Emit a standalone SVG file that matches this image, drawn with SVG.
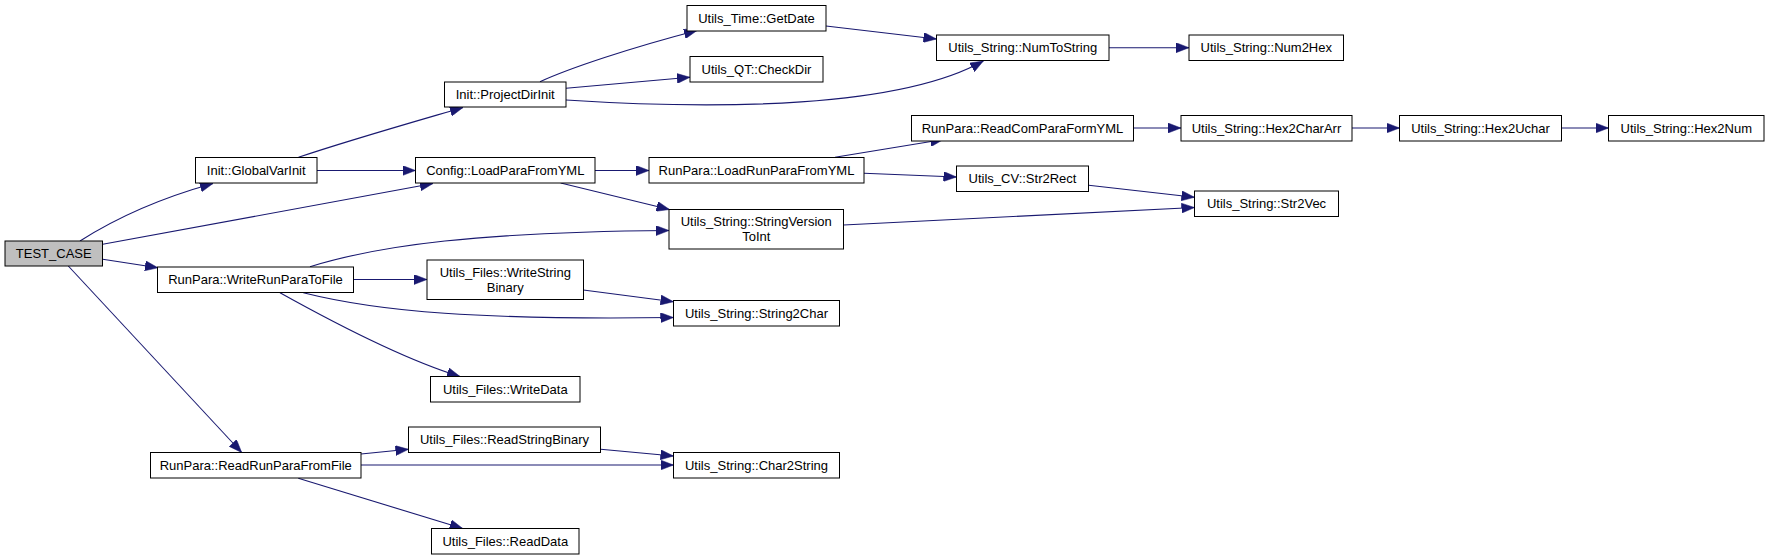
<svg xmlns="http://www.w3.org/2000/svg" width="1769" height="560" viewBox="0 0 1769 560">
<style>
.n rect{fill:#fff;stroke:#000;stroke-width:1}
.n.root rect{fill:#bfbfbf}
.n text{font-family:"Liberation Sans",Arial,sans-serif;font-size:13px;fill:#000;text-anchor:middle}
.e path{fill:none;stroke:#191970;stroke-width:1.1;marker-end:url(#ah)}
</style>
<defs>
<marker id="ah" viewBox="0 0 13 10" refX="13" refY="5" markerWidth="13" markerHeight="10" markerUnits="userSpaceOnUse" orient="auto">
<path d="M0,0 L13,5 L0,10 z" fill="#191970" stroke="#191970" stroke-width="0.5"/>
</marker>
</defs>
<rect width="1769" height="560" fill="#fff"/>
<g id="edges" class="e">
<path d="M80,241 C105,225 150,201 213,183.5"/>
<path d="M102.7,244.3 L433,183.5"/>
<path d="M102.7,259.3 L158,267.8"/>
<path d="M68.3,266 L241.7,452.5"/>
<path d="M298.5,157.3 C350,140 410,123 463,107.5"/>
<path d="M317,170.5 L415.5,170.5"/>
<path d="M540,81.7 C570,68 630,48 697,30.5"/>
<path d="M566,88.3 L690,77.3"/>
<path d="M566,100 C720,110 900,108 983.3,61"/>
<path d="M826,26 L936.5,39"/>
<path d="M1109,47.7 L1189,47.7"/>
<path d="M595,170.5 L649,170.5"/>
<path d="M560.7,183 L669.5,209.5"/>
<path d="M835,157.3 L943.3,139.5"/>
<path d="M864,173.3 L956.5,177"/>
<path d="M1133.5,128 L1181,128"/>
<path d="M1352,128 L1399.5,128"/>
<path d="M1561.5,128 L1608.5,128"/>
<path d="M1088.7,185.3 L1194.5,197.3"/>
<path d="M843.5,225 L1194.5,207.5"/>
<path d="M310,266.7 C380,245 480,232 669,230.5"/>
<path d="M353.5,279.5 L427,279.5"/>
<path d="M303.3,292.7 C380,312 480,320 673.5,317.5"/>
<path d="M280,292.7 C320,315 400,358 460,376.5"/>
<path d="M583.3,290 L673.5,301.7"/>
<path d="M361,454 L408.5,449.3"/>
<path d="M361,465 L673.5,465"/>
<path d="M600.7,449.3 L673.5,456"/>
<path d="M298.3,478.3 L462.7,528.5"/>
</g>
<g id="n_TEST_CASE" class="n root"><rect x="5" y="241" width="97.5" height="25"/><text x="53.75" y="258">TEST_CASE</text></g>
<g id="n_GlobalVarInit" class="n"><rect x="195.5" y="157.5" width="121.5" height="25.5"/><text x="256.25" y="174.75">Init::GlobalVarInit</text></g>
<g id="n_ProjectDirInit" class="n"><rect x="444.5" y="82" width="121.5" height="25"/><text x="505.25" y="99">Init::ProjectDirInit</text></g>
<g id="n_LoadParaFromYML" class="n"><rect x="415.5" y="157.5" width="179.5" height="25.5"/><text x="505.25" y="174.75">Config::LoadParaFromYML</text></g>
<g id="n_WriteRunParaToFile" class="n"><rect x="157.5" y="267" width="196" height="25.5"/><text x="255.5" y="284.25">RunPara::WriteRunParaToFile</text></g>
<g id="n_WriteStringBinary" class="n"><rect x="427" y="260" width="156.5" height="39.5"/><text x="505.25" y="276.5">Utils_Files::WriteString</text><text x="505.25" y="291.5">Binary</text></g>
<g id="n_WriteData" class="n"><rect x="430.5" y="376.5" width="149.5" height="25.5"/><text x="505.25" y="393.75">Utils_Files::WriteData</text></g>
<g id="n_ReadRunParaFromFile" class="n"><rect x="150.5" y="452.5" width="210.5" height="25.5"/><text x="255.75" y="469.75">RunPara::ReadRunParaFromFile</text></g>
<g id="n_ReadStringBinary" class="n"><rect x="408.5" y="427" width="192" height="25.5"/><text x="504.5" y="444.25">Utils_Files::ReadStringBinary</text></g>
<g id="n_ReadData" class="n"><rect x="431.5" y="528.5" width="147.5" height="25.5"/><text x="505.25" y="545.75">Utils_Files::ReadData</text></g>
<g id="n_GetDate" class="n"><rect x="687" y="5.5" width="139" height="25.5"/><text x="756.5" y="22.75">Utils_Time::GetDate</text></g>
<g id="n_CheckDir" class="n"><rect x="690" y="56.5" width="133" height="25.5"/><text x="756.5" y="73.75">Utils_QT::CheckDir</text></g>
<g id="n_LoadRunParaFromYML" class="n"><rect x="649" y="157.5" width="215" height="25.5"/><text x="756.5" y="174.75">RunPara::LoadRunParaFromYML</text></g>
<g id="n_StringVersionToInt" class="n"><rect x="669" y="209.5" width="174.5" height="39.5"/><text x="756.25" y="226">Utils_String::StringVersion</text><text x="756.25" y="241">ToInt</text></g>
<g id="n_String2Char" class="n"><rect x="673.5" y="300.5" width="166" height="25.5"/><text x="756.5" y="317.75">Utils_String::String2Char</text></g>
<g id="n_Char2String" class="n"><rect x="673.5" y="452.5" width="166" height="25.5"/><text x="756.5" y="469.75">Utils_String::Char2String</text></g>
<g id="n_NumToString" class="n"><rect x="936.5" y="35" width="172.5" height="25.5"/><text x="1022.75" y="52.25">Utils_String::NumToString</text></g>
<g id="n_ReadComParaFormYML" class="n"><rect x="911.5" y="115.5" width="222" height="25.5"/><text x="1022.5" y="132.75">RunPara::ReadComParaFormYML</text></g>
<g id="n_Str2Rect" class="n"><rect x="956.5" y="166" width="132" height="25.5"/><text x="1022.5" y="183.25">Utils_CV::Str2Rect</text></g>
<g id="n_Num2Hex" class="n"><rect x="1189" y="35" width="154.5" height="25.5"/><text x="1266.25" y="52.25">Utils_String::Num2Hex</text></g>
<g id="n_Hex2CharArr" class="n"><rect x="1181" y="115.5" width="171" height="25.5"/><text x="1266.5" y="132.75">Utils_String::Hex2CharArr</text></g>
<g id="n_Str2Vec" class="n"><rect x="1194.5" y="191" width="144" height="25.5"/><text x="1266.5" y="208.25">Utils_String::Str2Vec</text></g>
<g id="n_Hex2Uchar" class="n"><rect x="1399.5" y="115.5" width="162" height="25.5"/><text x="1480.5" y="132.75">Utils_String::Hex2Uchar</text></g>
<g id="n_Hex2Num" class="n"><rect x="1608.5" y="115.5" width="155.5" height="25.5"/><text x="1686.25" y="132.75">Utils_String::Hex2Num</text></g>
</svg>
